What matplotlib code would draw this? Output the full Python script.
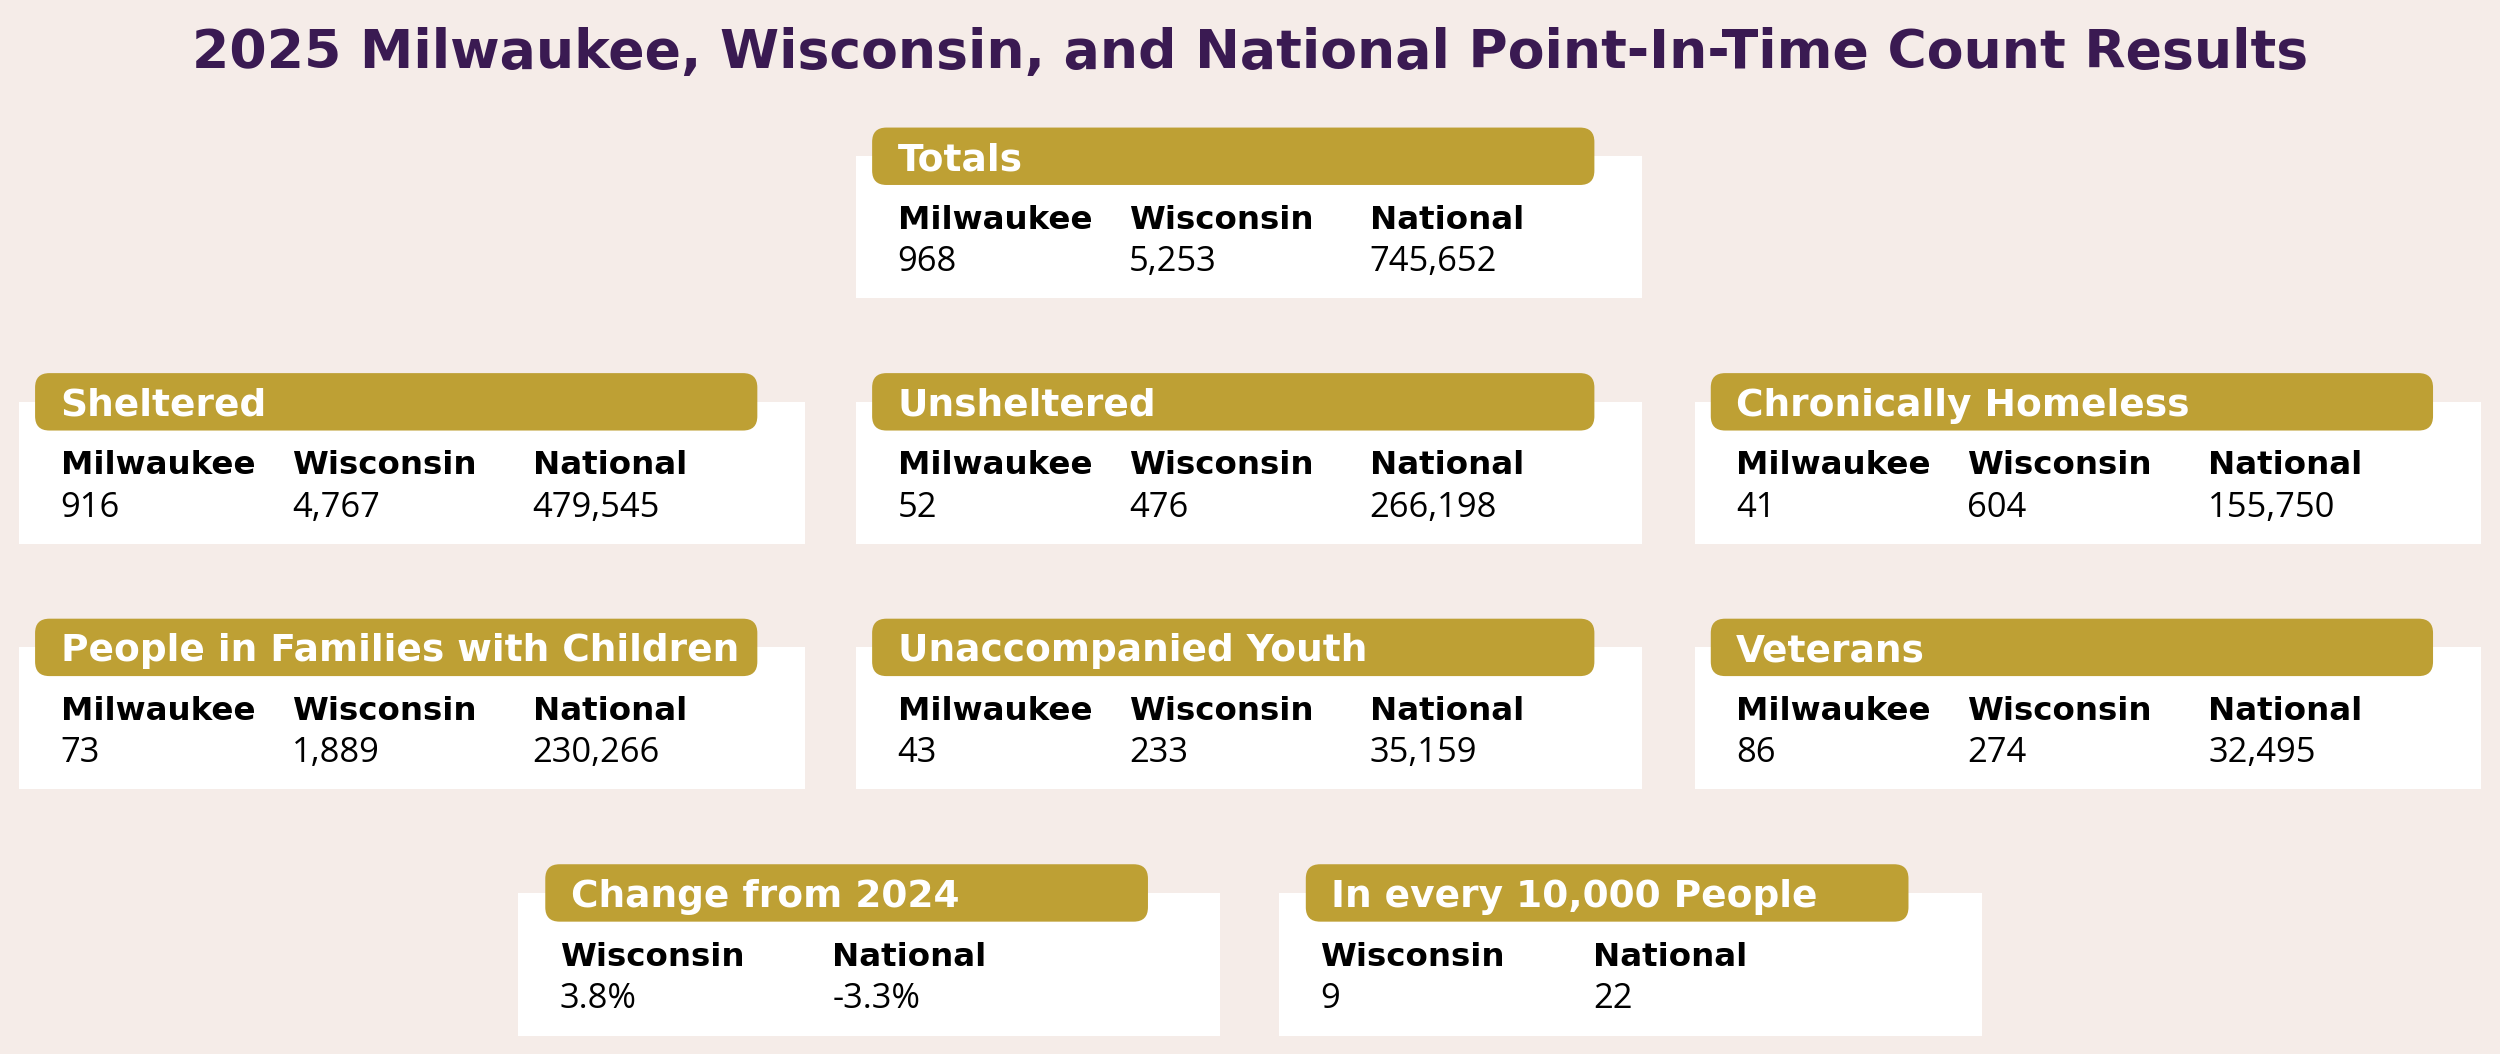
import matplotlib
matplotlib.use("Agg")
import matplotlib.pyplot as plt
from matplotlib.patches import FancyBboxPatch, Rectangle
from matplotlib import font_manager

# ---- data ----
title = "2025 Milwaukee, Wisconsin, and National Point-In-Time Count Results"
card_titles = ["Totals", "Sheltered", "Unsheltered", "Chronically Homeless",
               "People in Families with Children", "Unaccompanied Youth", "Veterans",
               "Change from 2024", "In every 10,000 People"]
three_cols = ["Milwaukee", "Wisconsin", "National"]
two_cols = ["Wisconsin", "National"]
milwaukee = ["968", "916", "52", "41", "73", "43", "86"]
wisconsin = ["5,253", "4,767", "476", "604", "1,889", "233", "274", "3.8%", "9"]
national = ["745,652", "479,545", "266,198", "155,750", "230,266", "35,159",
            "32,495", "-3.3%", "22"]

# ---- layout (canvas units: 1568 x 661) ----
W, H = 1568, 661
PX = 2500 / W
# left, top, width, height of the white boxes
card_pos = [(537, 98, 493, 89), (12, 252, 493, 89), (537, 252, 493, 89),
            (1063, 252, 493, 89), (12, 406, 493, 89), (537, 406, 493, 89),
            (1063, 406, 493, 89), (325, 560, 440, 90), (802, 560, 441, 90)]

BG = "#F5ECE8"
GOLD = "#BEA034"
PURPLE = "#3A1A52"

names = [f.name for f in font_manager.fontManager.ttflist]
value_font = "Liberation Sans Narrow" if "Liberation Sans Narrow" in names else "Open Sans"
head_font = "DejaVu Sans"

fig = plt.figure(figsize=(25, 10.54), dpi=100, facecolor=BG)
ax = fig.add_axes([0, 0, 1, 1])
ax.set_xlim(0, W)
ax.set_ylim(H, 0)
ax.axis("off")
ax.set_facecolor(BG)

renderer = fig.canvas.get_renderer()


def fit_size(text, target, **kw):
    t = ax.text(0, 0, text, fontsize=20, **kw)
    w = t.get_window_extent(renderer).width / PX
    t.remove()
    return 20 * target / w


title_fs = fit_size(title, 1328, family=head_font, weight="bold")
head_fs = fit_size("People in Families with Children", 427, family=head_font, weight="bold")
label_fs = fit_size("Milwaukee", 122, family=head_font, weight="bold")
value_fs = fit_size("745,652", 80, family=value_font)

ax.text(W / 2, 33, title, ha="center", va="center", fontsize=title_fs,
        family=head_font, weight="bold", color=PURPLE)

for i, (x0, top, w, h) in enumerate(card_pos):
    ax.add_patch(Rectangle((x0, top), w, h, facecolor="white", edgecolor="none"))
    if i < 7:
        hx0, hx1, tx = x0 + 10, x0 + 463, x0 + 26
        cols = three_cols
        vals = [milwaukee[i], wisconsin[i], national[i]]
        offs = [0, 145, 296]
    else:
        hx0, hx1, tx = x0 + 17, x0 + 395, x0 + 33
        cols = two_cols
        vals = [wisconsin[i], national[i]]
        offs = [0, 171]
    ax.add_patch(FancyBboxPatch((hx0, top - 18), hx1 - hx0, 36,
                                boxstyle="round,pad=0,rounding_size=9",
                                facecolor=GOLD, edgecolor="none"))
    ax.text(tx, top, card_titles[i], ha="left", va="center_baseline",
            fontsize=head_fs, family=head_font, weight="bold", color="white")
    for c, v, o in zip(cols, vals, offs):
        ax.text(x0 + 26 + o, top + 38, c, ha="left", va="center_baseline",
                fontsize=label_fs, family=head_font, weight="bold", color="black")
        ax.text(x0 + 26 + o, top + 64, v, ha="left", va="center_baseline",
                fontsize=value_fs, family=value_font, color="black")

fig.savefig("out.png", dpi=100, facecolor=BG)
